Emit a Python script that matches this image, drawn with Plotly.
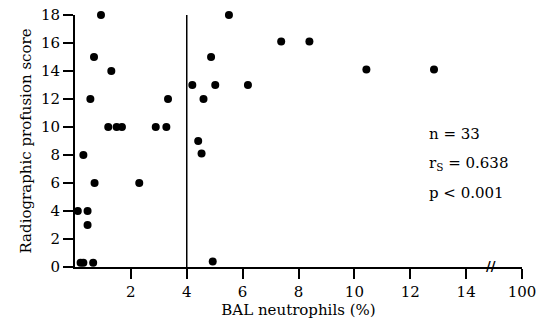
import plotly.graph_objects as go

# BAL neutrophils (%) and radiographic profusion score
neutrophils = [0.1, 0.2, 0.3, 0.65, 0.3, 0.45, 0.45, 0.7, 2.3, 0.55, 0.68, 0.93,
               1.3, 1.19, 1.49, 1.68, 2.89, 3.27, 3.33, 4.2, 4.41, 4.53, 4.6,
               4.87, 5.02, 4.93, 5.51, 6.19, 7.38, 8.39, 10.43, 11.75, 12.85]
profusion = [4, 0.3, 0.3, 0.3, 8, 4, 3, 6, 6, 12, 15, 18,
             14, 10, 10, 10, 10, 10, 12, 13, 9, 8.1, 12,
             15, 13, 0.4, 18, 13, 16.1, 16.1, 14.1, 18.1, 14.1]

x_tickvals = [2, 4, 6, 8, 10, 12, 14, 16]
x_ticktext = ["2", "4", "6", "8", "10", "12", "14", "100"]
y_tickvals = [0, 2, 4, 6, 8, 10, 12, 14, 16, 18]
cutoff = 4

font_fam = "DejaVu Serif"

fig = go.Figure()
fig.add_trace(go.Scatter(x=[cutoff, cutoff], y=[0, 18.35], mode="lines",
                         line=dict(color="black", width=1.5), cliponaxis=False,
                         hoverinfo="skip", showlegend=False))
fig.add_trace(go.Scatter(x=neutrophils, y=profusion, mode="markers",
                         marker=dict(color="black", size=8), cliponaxis=False,
                         showlegend=False))

fig.update_layout(
    width=538, height=327,
    margin=dict(l=75, r=16, t=15, b=60),
    paper_bgcolor="white", plot_bgcolor="white",
    font=dict(family=font_fam, size=15, color="black"),
    xaxis=dict(range=[0, 16], tickvals=x_tickvals, ticktext=x_ticktext,
               automargin=False,
               showgrid=False, zeroline=False, showline=True, linecolor="black",
               linewidth=2, ticks="outside", ticklen=10, tickwidth=2,
               tickcolor="black", tickfont=dict(size=15, family=font_fam),
               title=dict(text="BAL neutrophils (%)", font=dict(size=15, family=font_fam),
                          standoff=0)),
    yaxis=dict(range=[0, 18], tickvals=y_tickvals, automargin=False,
               showgrid=False, zeroline=False, showline=True, linecolor="black",
               linewidth=2, ticks="outside", ticklen=10, tickwidth=2,
               tickcolor="black", tickfont=dict(size=15, family=font_fam),
               title=dict(text="Radiographic profusion score",
                          font=dict(size=15, family=font_fam), standoff=6)),
)

fig.add_annotation(x=12.6, y=9.5, text="n = 33", showarrow=False, xanchor="left",
                   font=dict(size=15, family=font_fam))
fig.add_annotation(x=12.6, y=7.4, text="r<sub>S</sub> = 0.638", showarrow=False,
                   xanchor="left", font=dict(size=15, family=font_fam))
fig.add_annotation(x=12.6, y=5.3, text="p &lt; 0.001", showarrow=False, xanchor="left",
                   font=dict(size=15, family=font_fam))
fig.add_annotation(x=14.9, y=0, text="<b>//</b>", showarrow=False,
                   font=dict(size=13, family=font_fam), yshift=1)

fig.write_html("out.html")
